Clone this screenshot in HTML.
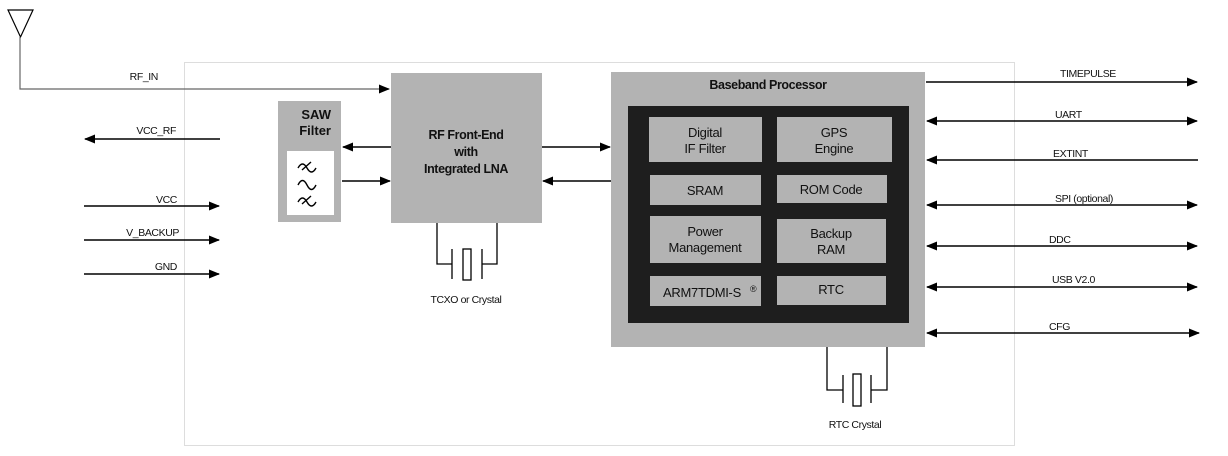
<!DOCTYPE html>
<html><head><meta charset="utf-8"><style>
html,body{margin:0;padding:0;background:#fff;}
svg{display:block;}
text{font-family:"Liberation Sans",sans-serif;fill:#111;}
.l{font-size:10.5px;letter-spacing:-0.4px;}
.c{font-size:13px;letter-spacing:-0.3px;}
</style></head><body>
<svg width="1228" height="456" viewBox="0 0 1228 456" xmlns="http://www.w3.org/2000/svg">
<defs>
<marker id="a" markerWidth="11" markerHeight="9" refX="10" refY="4.5" orient="auto" markerUnits="userSpaceOnUse"><path d="M0,0 L11,4.5 L0,9z" fill="#000"/></marker>
<marker id="b" markerWidth="11" markerHeight="9" refX="1" refY="4.5" orient="auto" markerUnits="userSpaceOnUse"><path d="M11,0 L0,4.5 L11,9z" fill="#000"/></marker>
</defs>
<rect x="184.5" y="62.5" width="830" height="383" fill="none" stroke="#ddd" stroke-width="1"/>
<path d="M8,10 L33,10 L20.5,37 Z" fill="none" stroke="#000" stroke-width="1.2"/>
<path d="M20,37 V89 H389" fill="none" stroke="#666" stroke-width="1.2" marker-end="url(#a)"/>
<text class="l" x="158" y="80" text-anchor="end">RF_IN</text>
<line x1="220" y1="139" x2="85" y2="139" stroke="#000" stroke-width="1.5" marker-end="url(#a)"/>
<text class="l" x="176" y="134" text-anchor="end">VCC_RF</text>
<line x1="84" y1="206" x2="219" y2="206" stroke="#000" stroke-width="1.5" marker-end="url(#a)"/>
<text class="l" x="177" y="203" text-anchor="end">VCC</text>
<line x1="84" y1="240" x2="219" y2="240" stroke="#000" stroke-width="1.5" marker-end="url(#a)"/>
<text class="l" x="179" y="236" text-anchor="end">V_BACKUP</text>
<line x1="84" y1="274" x2="219" y2="274" stroke="#000" stroke-width="1.5" marker-end="url(#a)"/>
<text class="l" x="177" y="270" text-anchor="end">GND</text>
<rect x="278" y="101" width="63" height="121" fill="#b3b3b3"/>
<text x="331" y="119" text-anchor="end" style="font-size:13px;font-weight:bold">SAW</text>
<text x="331" y="135" text-anchor="end" style="font-size:13px;font-weight:bold">Filter</text>
<rect x="287" y="151" width="47" height="64" fill="#fff"/>
<g fill="none" stroke="#000" stroke-width="1.4">
<path d="M298,168 q4.5,-8 9,0 t9,0 M302,170 l9,-8"/>
<path d="M298,185 q4.5,-9 9,0 t9,0"/>
<path d="M298,202 q4.5,-8 9,0 t9,0 M302,204 l9,-8"/>
</g>
<rect x="391" y="73" width="151" height="150" fill="#b3b3b3"/>
<text x="466" y="139" text-anchor="middle" style="font-size:12.5px;font-weight:bold;letter-spacing:-0.4px">RF Front-End</text>
<text x="466" y="156" text-anchor="middle" style="font-size:12.5px;font-weight:bold;letter-spacing:-0.4px">with</text>
<text x="466" y="173" text-anchor="middle" style="font-size:12.5px;font-weight:bold;letter-spacing:-0.4px">Integrated LNA</text>
<line x1="391" y1="147" x2="343" y2="147" stroke="#000" stroke-width="1.5" marker-end="url(#a)"/>
<line x1="342" y1="181" x2="390" y2="181" stroke="#000" stroke-width="1.5" marker-end="url(#a)"/>
<line x1="542" y1="147" x2="610" y2="147" stroke="#000" stroke-width="1.5" marker-end="url(#a)"/>
<line x1="611" y1="181" x2="543" y2="181" stroke="#000" stroke-width="1.5" marker-end="url(#a)"/>
<g fill="none" stroke="#000" stroke-width="1.3">
<path d="M437,223 V264 H452 M452,249 V279"/>
<rect x="463" y="249" width="8" height="31"/>
<path d="M497,223 V264 H482 M482,249 V279"/>
</g>
<text x="466" y="303" text-anchor="middle" style="font-size:10.5px;letter-spacing:-0.4px">TCXO or Crystal</text>
<rect x="611" y="72" width="314" height="275" fill="#b3b3b3"/>
<text x="768" y="89" text-anchor="middle" style="font-size:12.5px;font-weight:bold;letter-spacing:-0.4px">Baseband Processor</text>
<rect x="628" y="106" width="281" height="217" fill="#1e1e1e"/>
<g fill="#b3b3b3">
<rect x="649" y="117" width="113" height="45"/>
<rect x="777" y="117" width="115" height="45"/>
<rect x="650" y="175" width="111" height="30"/>
<rect x="777" y="175" width="110" height="28"/>
<rect x="650" y="216" width="111" height="47"/>
<rect x="777" y="219" width="109" height="44"/>
<rect x="650" y="276" width="111" height="30"/>
<rect x="777" y="276" width="109" height="29"/>
</g>
<g class="c" text-anchor="middle">
<text x="705" y="137">Digital</text><text x="705" y="153">IF Filter</text>
<text x="834" y="137">GPS</text><text x="834" y="153">Engine</text>
<text x="705" y="195">SRAM</text>
<text x="831" y="194">ROM Code</text>
<text x="705" y="236">Power</text><text x="705" y="252">Management</text>
<text x="831" y="238">Backup</text><text x="831" y="254">RAM</text>
<text x="702" y="297">ARM7TDMI-S</text>
<text x="831" y="294">RTC</text>
</g>
<text x="750" y="292" style="font-size:9px">®</text>
<g fill="none" stroke="#000" stroke-width="1.3">
<path d="M827,347 V390 H843 M843,375 V403"/>
<rect x="853" y="374" width="8" height="32"/>
<path d="M887,347 V390 H871 M871,375 V403"/>
</g>
<text x="855" y="428" text-anchor="middle" style="font-size:10.5px;letter-spacing:-0.4px">RTC Crystal</text>
<g stroke="#000" stroke-width="1.5">
<line x1="926" y1="82" x2="1197" y2="82" marker-end="url(#a)"/>
<line x1="927" y1="121" x2="1197" y2="121" marker-start="url(#b)" marker-end="url(#a)"/>
<line x1="1198" y1="160" x2="927" y2="160" marker-end="url(#a)"/>
<line x1="927" y1="205" x2="1197" y2="205" marker-start="url(#b)" marker-end="url(#a)"/>
<line x1="927" y1="246" x2="1197" y2="246" marker-start="url(#b)" marker-end="url(#a)"/>
<line x1="927" y1="287" x2="1197" y2="287" marker-start="url(#b)" marker-end="url(#a)"/>
<line x1="927" y1="333" x2="1199" y2="333" marker-start="url(#b)" marker-end="url(#a)"/>
</g>
<g class="l">
<text x="1060" y="77">TIMEPULSE</text>
<text x="1055" y="118">UART</text>
<text x="1053" y="157">EXTINT</text>
<text x="1055" y="202">SPI (optional)</text>
<text x="1049" y="243">DDC</text>
<text x="1052" y="283">USB V2.0</text>
<text x="1049" y="330">CFG</text>
</g>
</svg>
</body></html>
